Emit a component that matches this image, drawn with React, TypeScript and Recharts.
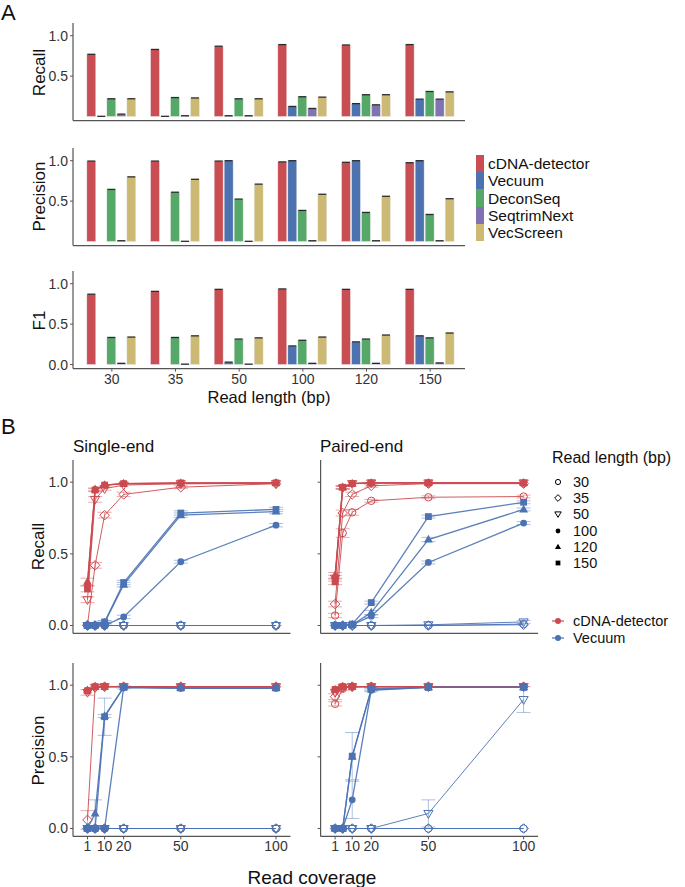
import React from 'react'
import { BarChart, Bar, XAxis, YAxis, LineChart, Line, ErrorBar } from 'recharts'

const FONT = '"Liberation Sans", Arial, Helvetica, sans-serif'

// ---- panel A: benchmark by read length ----
const readLengths = ['30', '35', '50', '100', '120', '150']
const tools = ['cDNA-detector', 'Vecuum', 'DeconSeq', 'SeqtrimNext', 'VecScreen']
const toolColors = ['#C94E53', '#4C72B0', '#55A868', '#8172B2', '#CCB974']

const recallCdna = [0.77, 0.83, 0.87, 0.89, 0.885, 0.89]
const recallVecuum = [0.003, 0.003, 0.01, 0.125, 0.16, 0.215]
const recallDecon = [0.22, 0.235, 0.22, 0.245, 0.27, 0.31]
const recallSeqtrim = [0.03, 0.01, 0.01, 0.1, 0.145, 0.215]
const recallVecscreen = [0.22, 0.23, 0.22, 0.24, 0.27, 0.305]

const precisionCdna = [0.995, 0.995, 0.995, 0.985, 0.98, 0.975]
const precisionVecuum = [null, null, 1.0, 1.0, 1.0, 1.0]
const precisionDecon = [0.645, 0.61, 0.525, 0.385, 0.36, 0.335]
const precisionSeqtrim = [0.01, 0.003, 0.003, 0.01, 0.01, 0.01]
const precisionVecscreen = [0.8, 0.77, 0.71, 0.585, 0.56, 0.53]

const f1Cdna = [0.87, 0.905, 0.93, 0.935, 0.93, 0.93]
const f1Vecuum = [null, null, 0.03, 0.23, 0.28, 0.355]
const f1Decon = [0.335, 0.335, 0.315, 0.3, 0.315, 0.33]
const f1Seqtrim = [0.015, 0.005, 0.005, 0.015, 0.015, 0.02]
const f1Vecscreen = [0.34, 0.355, 0.33, 0.34, 0.365, 0.39]

// ---- panel B: by read coverage, rows = read length 30,35,50,100,120,150 ----
const coverage = [1, 5, 10, 20, 50, 100]
const coverageTicks = [1, 10, 20, 50, 100]
const none = [0, 0, 0, 0, 0, 0]

const seRecallCdna = [
  [0, 0, 0, 0, 0, 0],
  [0.003, 0.42, 0.77, 0.915, 0.965, 0.99],
  [0.18, 0.88, 0.955, 0.98, 0.99, 0.99],
  [0.28, 0.95, 0.98, 0.99, 0.99, 0.995],
  [0.305, 0.95, 0.98, 0.99, 0.995, 0.995],
  [0.255, 0.945, 0.98, 0.99, 0.995, 0.995],
]
const seRecallVecuum = [
  [0, 0, 0, 0, 0, 0],
  [0, 0, 0, 0, 0, 0],
  [0, 0, 0, 0, 0, 0],
  [0, 0, 0, 0.06, 0.445, 0.7],
  [0, 0.003, 0.02, 0.285, 0.77, 0.795],
  [0, 0, 0.025, 0.3, 0.785, 0.81],
]
const seRecallCdnaErr = [none, [0, 0.02, 0.02, 0.015, 0.01, 0], [0.02, 0.02, 0.01, 0, 0, 0], none, [0.025, 0.01, 0, 0, 0, 0], [0.02, 0.01, 0, 0, 0, 0]]
const seRecallVecuumErr = [none, none, none, [0, 0, 0, 0.012, 0.01, 0.012], [0, 0, 0.01, 0.015, 0.015, 0.015], [0, 0, 0.01, 0.015, 0.015, 0.015]]

const sePrecCdna = [
  [0, 0, 0, 0, 0, 0],
  [0.06, 0.985, 0.99, 0.99, 0.99, 0.99],
  [0.95, 0.985, 0.99, 0.99, 0.99, 0.99],
  [0.965, 0.99, 0.99, 0.99, 0.99, 0.99],
  [0.965, 0.99, 0.99, 0.99, 0.99, 0.99],
  [0.96, 0.99, 0.99, 0.99, 0.99, 0.99],
]
const sePrecVecuum = [
  [0, 0, 0, 0, 0, 0],
  [0, 0, 0, 0, 0, 0],
  [0, 0, 0, 0, 0, 0],
  [0, 0, 0, 0.985, 0.98, 0.98],
  [0, 0.105, 0.785, 0.985, 0.98, 0.98],
  [0, 0, 0.78, 0.985, 0.98, 0.98],
]
const sePrecCdnaErr = [none, [0.065, 0, 0, 0, 0, 0], [0.02, 0, 0, 0, 0, 0], none, none, none]
const sePrecVecuumErr = [none, none, none, none, [0, 0.095, 0.01, 0, 0, 0], [0, 0, 0.13, 0.01, 0, 0]]

const peRecallCdna = [
  [0.07, 0.645, 0.79, 0.87, 0.895, 0.9],
  [0.15, 0.785, 0.915, 0.975, 0.99, 0.99],
  [0.33, 0.96, 0.99, 0.995, 0.995, 0.995],
  [0.33, 0.965, 0.99, 0.995, 0.995, 0.995],
  [0.35, 0.965, 0.99, 0.995, 0.995, 0.995],
  [0.305, 0.965, 0.99, 0.995, 0.995, 0.995],
]
const peRecallVecuum = [
  [0, 0, 0, 0, 0, 0.01],
  [0, 0, 0, 0, 0, 0.005],
  [0, 0, 0, 0, 0.005, 0.025],
  [0, 0, 0.005, 0.065, 0.44, 0.715],
  [0, 0, 0.005, 0.09, 0.6, 0.81],
  [0, 0, 0.01, 0.16, 0.76, 0.86],
]
const peRecallCdnaErr = [[0.015, 0.03, 0.02, 0.01, 0.01, 0.01], [0.02, 0.02, 0.015, 0.01, 0, 0], [0.02, 0.01, 0, 0, 0, 0], none, [0.02, 0.01, 0, 0, 0, 0], [0.02, 0.01, 0, 0, 0, 0]]
const peRecallVecuumErr = [none, none, [0, 0, 0, 0, 0, 0.01], [0, 0, 0, 0.01, 0.01, 0.01], [0, 0, 0, 0.015, 0.015, 0.01], [0, 0, 0, 0.01, 0.01, 0.01]]

const pePrecCdna = [
  [0.87, 0.975, 0.99, 0.99, 0.99, 0.99],
  [0.92, 0.985, 0.99, 0.99, 0.99, 0.99],
  [0.95, 0.985, 0.99, 0.99, 0.99, 0.99],
  [0.97, 0.99, 0.99, 0.99, 0.99, 0.99],
  [0.97, 0.99, 0.99, 0.99, 0.99, 0.99],
  [0.97, 0.99, 0.99, 0.99, 0.99, 0.99],
]
const pePrecVecuum = [
  [0, 0, 0, 0, 0, 0],
  [0, 0, 0, 0, 0, 0],
  [0, 0, 0, 0, 0.105, 0.9],
  [0, 0, 0.2, 0.965, 0.985, 0.985],
  [0, 0, 0.5, 0.97, 0.985, 0.985],
  [0, 0, 0.505, 0.975, 0.985, 0.985],
]
const pePrecCdnaErr = [[0.015, 0.01, 0, 0, 0, 0], [0.02, 0, 0, 0, 0, 0], none, none, none, none]
const pePrecVecuumErr = [none, none, [0, 0, 0, 0, 0.095, 0.09], [0, 0, 0.13, 0.01, 0, 0], none, [0, 0, 0.165, 0.01, 0, 0]]

const RED = '#CB4A50'
const BLUE = '#4A72B5'
const RED_ERR = 'rgba(203,74,80,0.45)'
const BLUE_ERR = 'rgba(74,114,181,0.45)'

const axisLine = { stroke: '#555', strokeWidth: 1.2 }
const tickLine = { stroke: '#555', strokeWidth: 1 }
const tickStyle = { fill: '#333', fontSize: 14, fontFamily: FONT }

function Txt({ x, y, size, lh, children, center, rotate }: any) {
  const h = lh ?? size
  const style: any = {
    position: 'absolute',
    top: y - h / 2,
    height: h,
    fontSize: size,
    lineHeight: `${h}px`,
    fontFamily: FONT,
    color: '#111',
    whiteSpace: 'nowrap',
  }
  if (center || rotate) {
    style.left = x - 150
    style.width = 300
    style.textAlign = 'center'
  } else {
    style.left = x
  }
  if (rotate) style.transform = 'rotate(-90deg)'
  return <div style={style}>{children}</div>
}

function CappedBar(props: any) {
  const { x, y, width, height, fill, payload, k } = props
  if (payload == null || payload[k] == null) return <g />
  return (
    <g>
      <rect x={x} y={y} width={width} height={Math.max(height, 0.5)} fill={fill} stroke="#eeeeee" strokeWidth={0.5} />
      <line x1={x + 0.5} x2={x + width - 0.5} y1={y} y2={y} stroke="#2a2a2a" strokeWidth={1.3} />
    </g>
  )
}

const barRows = (vals: (number | null)[][]) =>
  readLengths.map((rl, i) => {
    const row: any = { rl }
    vals.forEach((v, t) => {
      row['t' + t] = v[i]
    })
    return row
  })

const recallRows = barRows([recallCdna, recallVecuum, recallDecon, recallSeqtrim, recallVecscreen])
const precisionRows = barRows([precisionCdna, precisionVecuum, precisionDecon, precisionSeqtrim, precisionVecscreen])
const f1Rows = barRows([f1Cdna, f1Vecuum, f1Decon, f1Seqtrim, f1Vecscreen])

function BarPanel({ top, rows, showX }: any) {
  const plotH = 97.6
  const xH = showX ? 30 : 3
  return (
    <div style={{ position: 'absolute', left: 0, top }}>
      <BarChart
        width={470}
        height={plotH + xH}
        data={rows}
        margin={{ top: 0, right: 5, bottom: 0, left: 0 }}
        barCategoryGap="10.7%"
        barGap={1}
      >
        <XAxis
          dataKey="rl"
          padding={{ left: 7, right: 3 }}
          height={xH}
          axisLine={axisLine}
          tickLine={showX ? tickLine : false}
          tick={showX ? tickStyle : false}
          tickSize={3}
          tickMargin={2}
          interval={0}
        />
        <YAxis
          width={73}
          domain={[-0.05, 1.157]}
          ticks={[0, 0.5, 1]}
          tickFormatter={(v: number) => v.toFixed(1)}
          axisLine={axisLine}
          tickLine={tickLine}
          tick={tickStyle}
          tickSize={3}
          tickMargin={2}
        />
        {tools.map((t, k) => (
          <Bar
            key={t}
            dataKey={'t' + k}
            fill={toolColors[k]}
            isAnimationActive={false}
            shape={(p: any) => <CappedBar {...p} k={'t' + k} />}
          />
        ))}
      </BarChart>
    </div>
  )
}

function Marker({ shape, color, cx, cy, s = 1 }: any) {
  if (cx == null || cy == null) return <g />
  switch (shape) {
    case 0:
      return <circle cx={cx} cy={cy} r={3.7 * s} fill="none" stroke={color} strokeWidth={1} />
    case 1: {
      const d = 4.8 * s
      return <polygon points={`${cx},${cy - d} ${cx + d},${cy} ${cx},${cy + d} ${cx - d},${cy}`} fill="none" stroke={color} strokeWidth={1} />
    }
    case 2:
      return (
        <polygon
          points={`${cx - 4.6 * s},${cy - 3 * s} ${cx + 4.6 * s},${cy - 3 * s} ${cx},${cy + 4.8 * s}`}
          fill="none"
          stroke={color}
          strokeWidth={1}
        />
      )
    case 3:
      return <circle cx={cx} cy={cy} r={3.4 * s} fill={color} />
    case 4:
      return <polygon points={`${cx},${cy - 4.8 * s} ${cx + 4.4 * s},${cy + 3 * s} ${cx - 4.4 * s},${cy + 3 * s}`} fill={color} />
    default:
      return <rect x={cx - 3.4 * s} y={cy - 3.4 * s} width={6.8 * s} height={6.8 * s} fill={color} />
  }
}

function CoveragePanel({ left, top, yW, yLabels, xLabels, cdna, vecuum, cdnaErr, vecErr }: any) {
  const plotW = 217.5
  const plotH = 173.4
  const xH = xLabels ? 26 : 2
  const rows = coverage.map((x, i) => {
    const row: any = { x }
    readLengths.forEach((rl, j) => {
      row['c' + rl] = cdna[j][i]
      row['v' + rl] = vecuum[j][i]
      row['ce' + rl] = cdnaErr[j][i]
      row['ve' + rl] = vecErr[j][i]
    })
    return row
  })
  const series: any[] = []
  ;[
    { p: 'c', color: RED, err: RED_ERR, errs: cdnaErr },
    { p: 'v', color: BLUE, err: BLUE_ERR, errs: vecErr },
  ].forEach((tool) => {
    readLengths.forEach((rl, j) => {
      const hasErr = tool.errs[j].some((e: number) => e > 0)
      series.push(
        <Line
          key={tool.p + rl}
          type="linear"
          dataKey={tool.p + rl}
          stroke={tool.color}
          strokeOpacity={0.9}
          strokeWidth={j >= 3 ? 1.3 : 1}
          isAnimationActive={false}
          activeDot={false}
          dot={(d: any) => <Marker key={tool.p + rl + d.index} shape={j} color={tool.color} cx={d.cx} cy={d.cy} />}
        >
          {hasErr && <ErrorBar dataKey={(tool.p === 'c' ? 'ce' : 've') + rl} width={7} stroke={tool.err} strokeWidth={1} direction="y" />}
        </Line>
      )
    })
  })
  return (
    <div style={{ position: 'absolute', left, top }}>
      <LineChart width={yW + plotW + 2} height={plotH + xH} data={rows} margin={{ top: 0, right: 2, bottom: 0, left: 0 }}>
        <XAxis
          type="number"
          dataKey="x"
          domain={[-6.6, 107.6]}
          ticks={coverageTicks}
          height={xH}
          axisLine={axisLine}
          tickLine={xLabels ? tickLine : false}
          tick={xLabels ? tickStyle : false}
          tickSize={3}
          tickMargin={2}
          interval={0}
        />
        <YAxis
          width={yW}
          domain={[-0.055, 1.155]}
          ticks={[0, 0.5, 1]}
          tickFormatter={yLabels ? (v: number) => v.toFixed(1) : () => ''}
          axisLine={axisLine}
          tickLine={tickLine}
          tick={tickStyle}
          tickSize={3}
          tickMargin={2}
        />
        {series}
      </LineChart>
    </div>
  )
}

export default function App() {
  return (
    <div style={{ position: 'absolute', left: 0, top: 0, width: 685, height: 887, background: '#fff', overflow: 'hidden' }}>
      <Txt x={1} y={13} size={22}>A</Txt>
      <BarPanel top={23.4} rows={recallRows} />
      <BarPanel top={147.5} rows={precisionRows} />
      <BarPanel top={270.8} rows={f1Rows} showX />
      <Txt x={39} y={72} size={17} rotate>Recall</Txt>
      <Txt x={39} y={196} size={17} rotate>Precision</Txt>
      <Txt x={39} y={320} size={17} rotate>F1</Txt>
      <Txt x={269} y={397} size={16.5} center>Read length (bp)</Txt>

      {tools.map((t, k) => (
        <React.Fragment key={t}>
          <div style={{ position: 'absolute', left: 475.5, top: 155 + k * 17.2, width: 8.5, height: 17.2, background: toolColors[k] }} />
          <Txt x={488} y={163.6 + k * 17.2} size={15.5} lh={15}>{t}</Txt>
        </React.Fragment>
      ))}

      <Txt x={1} y={427} size={22}>B</Txt>
      <Txt x={73} y={446} size={17}>Single-end</Txt>
      <Txt x={320} y={446} size={17}>Paired-end</Txt>

      <CoveragePanel left={0} top={459.8} yW={73} yLabels cdna={seRecallCdna} vecuum={seRecallVecuum} cdnaErr={seRecallCdnaErr} vecErr={seRecallVecuumErr} />
      <CoveragePanel left={300} top={459.8} yW={20.6} cdna={peRecallCdna} vecuum={peRecallVecuum} cdnaErr={peRecallCdnaErr} vecErr={peRecallVecuumErr} />
      <CoveragePanel left={0} top={663} yW={73} yLabels xLabels cdna={sePrecCdna} vecuum={sePrecVecuum} cdnaErr={sePrecCdnaErr} vecErr={sePrecVecuumErr} />
      <CoveragePanel left={300} top={663} yW={20.6} xLabels cdna={pePrecCdna} vecuum={pePrecVecuum} cdnaErr={pePrecCdnaErr} vecErr={pePrecVecuumErr} />

      <Txt x={38} y={546} size={17} rotate>Recall</Txt>
      <Txt x={38} y={750} size={17} rotate>Precision</Txt>
      <Txt x={312} y={877} size={19} center>Read coverage</Txt>

      <Txt x={552} y={458} size={16}>Read length (bp)</Txt>
      {readLengths.map((rl, j) => (
        <React.Fragment key={rl}>
          <svg style={{ position: 'absolute', left: 551, top: 475 + j * 16.2 }} width={14} height={14}>
            <Marker shape={j} color="#000" cx={7} cy={7} s={0.7} />
          </svg>
          <Txt x={573} y={482 + j * 16.2} size={14.5} lh={14}>{rl}</Txt>
        </React.Fragment>
      ))}

      {[
        { name: 'cDNA-detector', color: RED },
        { name: 'Vecuum', color: BLUE },
      ].map((t, k) => (
        <React.Fragment key={t.name}>
          <svg style={{ position: 'absolute', left: 550, top: 614 + k * 16.5 }} width={16} height={14}>
            <line x1={2} x2={14} y1={7} y2={7} stroke={t.color} strokeWidth={1.2} />
            <circle cx={8} cy={7} r={3} fill={t.color} />
          </svg>
          <Txt x={573} y={621 + k * 16.5} size={14.5} lh={14}>{t.name}</Txt>
        </React.Fragment>
      ))}
    </div>
  )
}
